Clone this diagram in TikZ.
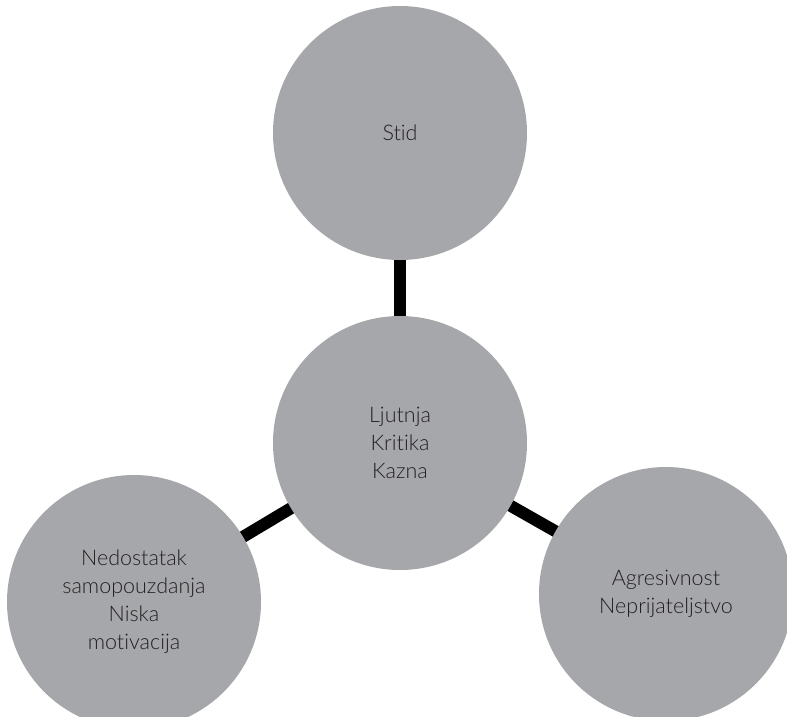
\documentclass[tikz,border=0pt]{standalone}
\usepackage{fontspec}
\setmainfont{Lato}[UprightFont=* Light, Ligatures=NoCommon]
\usetikzlibrary{backgrounds}
\definecolor{bubblegray}{HTML}{A6A7AB}
\definecolor{textdark}{HTML}{231F20}
\begin{document}
\begin{tikzpicture}[x=1pt,y=-1pt,
  bubble/.style={circle, fill=bubblegray, minimum size=254pt, inner sep=0pt,
    align=center, text=textdark, font=\fontsize{21.5}{28}\selectfont},
  link/.style={line width=12pt, draw=black}]
  \useasboundingbox (0,0) rectangle (787,716);
  \clip (0,0) rectangle (787,716);
  % the four circles
  \node[bubble] (stid) at (400,133) {Stid};
  \node[bubble] (core) at (400,443) {Ljutnja\\Kritika\\Kazna};
  \node[bubble] (left) at (134,602) {Nedostatak\\samopouzdanja\\Niska\\motivacija};
  \node[bubble] (right) at (666,594) {Agresivnost\\Neprijateljstvo};
  % thick spokes behind the circles
  \begin{scope}[on background layer]
    \draw[link] (stid.center) -- (core.center);
    \draw[link] (core.center) -- (left.center);
    \draw[link] (core.center) -- (right.center);
  \end{scope}
\end{tikzpicture}
\end{document}
